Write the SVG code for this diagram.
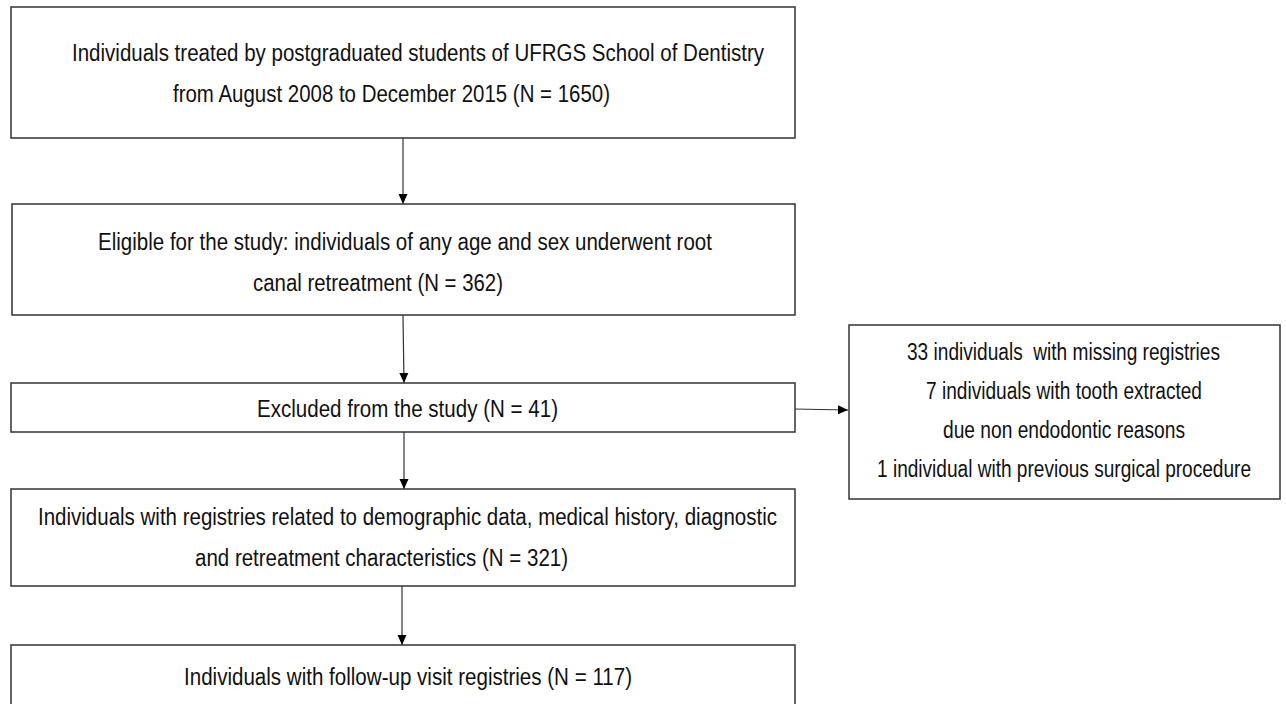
<svg xmlns="http://www.w3.org/2000/svg" width="1286" height="704" viewBox="0 0 1286 704">
<style>
.box{fill:#fff;stroke:#333;stroke-width:1.5}
.t{font-family:"Liberation Sans",Arial,sans-serif;font-size:23px;fill:#111}
.c{fill:none;stroke:#333;stroke-width:1.2}
</style>
<defs>
<marker id="ah" viewBox="0 0 10 10" refX="10" refY="5" markerWidth="10" markerHeight="10" markerUnits="userSpaceOnUse" orient="auto">
<path d="M0,0.5 L10,5 L0,9.5 Z" fill="#000"/>
</marker>
</defs>
<rect width="1286" height="704" fill="#fff"/>
<g id="connectors">
<line class="c" x1="403" y1="138" x2="403" y2="204" marker-end="url(#ah)"/>
<line class="c" x1="403" y1="315" x2="404" y2="383" marker-end="url(#ah)"/>
<line class="c" x1="404" y1="432" x2="404" y2="489" marker-end="url(#ah)"/>
<line class="c" x1="402" y1="586" x2="402" y2="645" marker-end="url(#ah)"/>
<line class="c" x1="793" y1="409" x2="848" y2="410" marker-end="url(#ah)"/>
</g>
<g id="n1">
<rect class="box" x="11" y="7" width="784" height="131"/>
<text class="t" x="72" y="61" textLength="692" lengthAdjust="spacingAndGlyphs">Individuals treated by postgraduated students of UFRGS School of Dentistry</text>
<text class="t" x="173" y="102" textLength="437" lengthAdjust="spacingAndGlyphs">from August 2008 to December 2015 (N = 1650)</text>
</g>
<g id="n2">
<rect class="box" x="12" y="204" width="783" height="111"/>
<text class="t" x="98" y="250" textLength="614" lengthAdjust="spacingAndGlyphs">Eligible for the study: individuals of any age and sex underwent root</text>
<text class="t" x="253" y="291" textLength="250" lengthAdjust="spacingAndGlyphs">canal retreatment (N = 362)</text>
</g>
<g id="n3">
<rect class="box" x="11" y="383" width="784" height="49"/>
<text class="t" x="257" y="417" textLength="301" lengthAdjust="spacingAndGlyphs">Excluded from the study (N = 41)</text>
</g>
<g id="n4">
<rect class="box" x="11" y="489" width="784" height="97"/>
<text class="t" x="38" y="525" textLength="739" lengthAdjust="spacingAndGlyphs">Individuals with registries related to demographic data, medical history, diagnostic</text>
<text class="t" x="195" y="566" textLength="373" lengthAdjust="spacingAndGlyphs">and retreatment characteristics (N = 321)</text>
</g>
<g id="n5">
<rect class="box" x="11" y="645" width="784" height="70"/>
<text class="t" x="184" y="685" textLength="448" lengthAdjust="spacingAndGlyphs">Individuals with follow-up visit registries (N = 117)</text>
</g>
<g id="n6">
<rect class="box" x="849" y="325" width="431" height="174"/>
<text class="t" x="907" y="360" textLength="313" lengthAdjust="spacingAndGlyphs" xml:space="preserve">33 individuals  with missing registries</text>
<text class="t" x="926" y="399" textLength="276" lengthAdjust="spacingAndGlyphs">7 individuals with tooth extracted</text>
<text class="t" x="943" y="438" textLength="242" lengthAdjust="spacingAndGlyphs">due non endodontic reasons</text>
<text class="t" x="877" y="477" textLength="374" lengthAdjust="spacingAndGlyphs">1 individual with previous surgical procedure</text>
</g>
</svg>
